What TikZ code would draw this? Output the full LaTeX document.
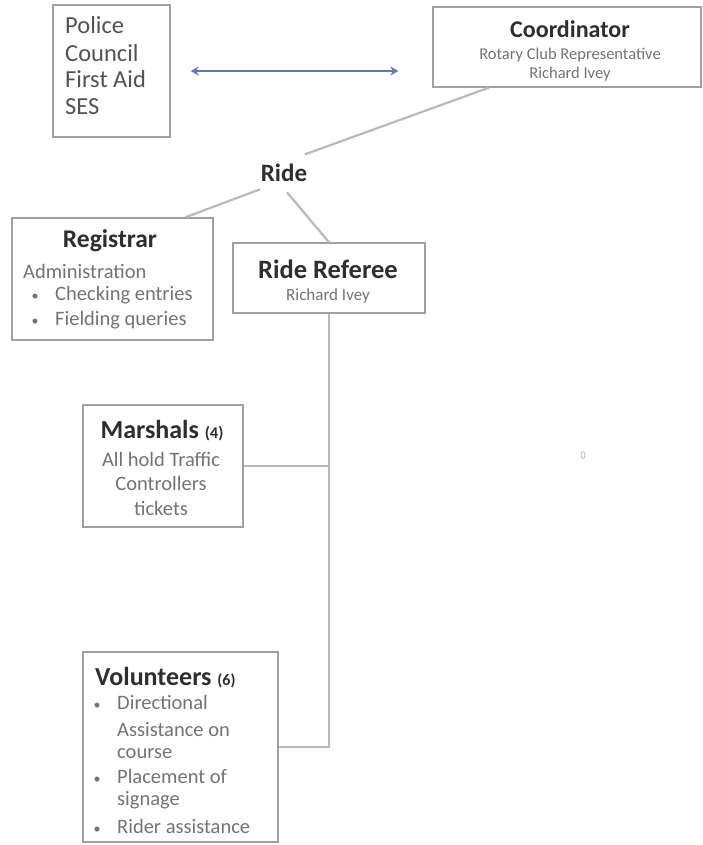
\documentclass[tikz,border=0pt]{standalone}
\usepackage{fontspec}
\setmainfont{Carlito}
\usetikzlibrary{calc,arrows.meta}
\definecolor{arrowblue}{RGB}{95,120,175}
\definecolor{linegray}{RGB}{160,160,160}
\definecolor{conngray}{RGB}{185,185,185}
\tikzset{
  box/.style={draw=linegray, line width=1.4pt, inner sep=0pt},
  conn/.style={draw=conngray, line width=2.2pt},
  head/.style={font=\bfseries\fontsize{24}{28}\selectfont, text=black!82, inner sep=1pt, anchor=base},
  sub/.style={font=\fontsize{20.5}{24}\selectfont, text=black!55, inner sep=0pt, anchor=base},
  small/.style={font=\fontsize{16.5}{19}\selectfont, text=black!55, inner sep=0pt, anchor=base},
  lst/.style={font=\fontsize{24.5}{28}\selectfont, text=black!68, inner sep=0pt, anchor=base west},
  bul/.style={font=\fontsize{14}{16}\selectfont, text=black!55, inner sep=0pt, anchor=base}
}
\begin{document}
\begin{tikzpicture}[x=1pt,y=-1pt]
\useasboundingbox (0,0) rectangle (703,845);
% boxes
\node[box, minimum width=117pt, minimum height=132pt] (police) at (111.5,71) {};
\node[box, minimum width=268pt, minimum height=80pt] (coord) at (567,47) {};
\node[box, minimum width=201pt, minimum height=122pt] (registrar) at (112.5,279) {};
\node[box, minimum width=192pt, minimum height=70pt] (referee) at (329,278) {};
\node[box, minimum width=160pt, minimum height=122pt] (marshals) at (163,466) {};
\node[box, minimum width=195pt, minimum height=190pt] (volunteers) at (180.5,747) {};
% police list
\node[lst] (p1) at (65,34) {Police};
\node[lst] (p2) at (65,62) {Council};
\node[lst] (p3) at (65,88) {First Aid};
\node[lst] (p4) at (65,115) {SES};
% coordinator
\node[head, font=\bfseries\fontsize{24}{28}\selectfont] (ct) at (570,38) {Coordinator};
\node[small] (c1) at (570,60) {Rotary Club Representative};
\node[small] (c2) at (570,79) {Richard Ivey};
% ride
\node[head, font=\bfseries\fontsize{25}{29}\selectfont] (ride) at (284,182) {Ride};
% registrar
\node[head, font=\bfseries\fontsize{25.5}{29}\selectfont] (rt) at (110,247) {Registrar};
\node[sub, anchor=base west] (r1) at (23,278) {Administration};
\node[bul] (rb1) at (35,300) {•};
\node[sub, anchor=base west] (r2) at (55,300) {Checking entries};
\node[bul] (rb2) at (35,325) {•};
\node[sub, anchor=base west] (r3) at (55,325) {Fielding queries};
% referee
\node[head, font=\bfseries\fontsize{26.5}{30}\selectfont] (ft) at (328,278) {Ride Referee};
\node[small, font=\fontsize{17}{20}\selectfont] (f1) at (328,300) {Richard Ivey};
% marshals
\node[head, font=\bfseries\fontsize{26}{30}\selectfont] (mt) at (162,438) {Marshals {\fontsize{16.5}{19}\selectfont (4)}};
\node[sub] (m1) at (161,466) {All hold Traffic};
\node[sub] (m2) at (161,490) {Controllers};
\node[sub] (m3) at (161,515) {tickets};
% volunteers
\node[head, anchor=base west, font=\bfseries\fontsize{26}{30}\selectfont] (vt) at (94,685) {Volunteers {\fontsize{16}{18}\selectfont (6)}};
\node[bul] (vb1) at (97,709) {•};
\node[sub, anchor=base west] (v1) at (117,709) {Directional};
\node[sub, anchor=base west] (v2) at (117,736) {Assistance on};
\node[sub, anchor=base west] (v3) at (117,758) {course};
\node[bul] (vb2) at (97,783) {•};
\node[sub, anchor=base west] (v4) at (117,783) {Placement of};
\node[sub, anchor=base west] (v5) at (117,805) {signage};
\node[bul] (vb3) at (97,833) {•};
\node[sub, anchor=base west] (v6) at (117,833) {Rider assistance};
% connectors
\draw[draw=arrowblue, line width=1.6pt, {Stealth[length=8pt,width=9pt]}-{Stealth[length=8pt,width=9pt]}, shorten <=20pt, shorten >=34pt]
  (police.east) -- (police.east -| coord.west);
\draw[conn] ($(coord.south west)!0.21!(coord.south east)$) -- ($(ride.center)+(21,-19)$);
\draw[conn] ($(ride.center)+(-24,16)$) -- ($(registrar.north west)!0.86!(registrar.north east)$);
\draw[conn] ($(ride.center)+(3,19)$) -- (referee.north);
\draw[conn] (referee.south) |- (volunteers.east);
\draw[conn] (marshals.east) -- (marshals.east -| referee.south);
% small mark
\draw[draw=gray!55, line width=0.8pt] (583,455) ellipse (2 and 3.5);
\end{tikzpicture}
\end{document}
